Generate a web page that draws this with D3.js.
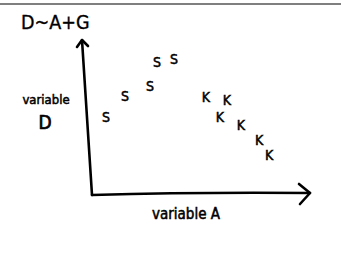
<!DOCTYPE html>
<html><head><meta charset="utf-8">
<script src="https://cdn.jsdelivr.net/npm/d3@7"></script>
<style>html,body{margin:0;padding:0;background:#fff;}svg{display:block;}</style>
</head><body>
<script>
const title = "D~A+G";
const xLabel = "variable A";
const yLabel1 = "variable";
const yLabel2 = "D";
const groupS = "S";
const groupK = "K";
const sX = [6.7, 15.9, 27.9, 31.3, 39.4];
const sY = [50.3, 63.9, 70.3, 85.8, 87.7];
const kX = [54.8, 64.9, 61.5, 71.6, 80.3, 85.1];
const kY = [63.2, 61.3, 50.3, 45.2, 35.5, 25.8];

const W = 341, H = 262;
const svg = d3.select("body").append("svg").attr("width", W).attr("height", H);
const x = d3.scaleLinear().domain([0, 100]).range([92, 300]);
const y = d3.scaleLinear().domain([0, 100]).range([195, 40]);

svg.append("line").attr("x1", 0).attr("x2", W).attr("y1", 4).attr("y2", 4)
  .attr("stroke", "#555").attr("stroke-width", 1.5);

svg.append("text").attr("x", 21).attr("y", 29).text(title)
  .attr("font-family", "DejaVu Sans Condensed, DejaVu Sans").attr("font-size", 19.5)
  .attr("fill", "#000").attr("stroke", "#000").attr("stroke-width", 0.35);

const ax = svg.append("g").attr("fill", "none").attr("stroke", "#000")
  .attr("stroke-width", 2.6).attr("stroke-linecap", "round").attr("stroke-linejoin", "round");
const x0 = x(0), y0 = y(0);
ax.append("path").attr("d", `M${x0},${y0} L${x0 - 10},${y(100)}`);
ax.append("path").attr("d", `M${x0 - 15},${y(100) + 7} L${x0 - 10},${y(100)} L${x0 - 4},${y(100) + 6}`);
ax.append("path").attr("d", `M${x0},${y0} Q${x(50)},${y0 - 3} ${x(100) + 10},${y0 - 2}`);
ax.append("path").attr("d", `M${x(100) - 1},${y0 - 11} L${x(100) + 10},${y0 - 2} L${x(100)},${y0 + 9}`);

const hand = "Liberation Sans Narrow, DejaVu Sans Condensed, sans-serif";
const lab = (tx, ty, sz, t, sw) => svg.append("text").attr("x", tx).attr("y", ty)
  .attr("text-anchor", "middle").attr("font-family", hand).attr("font-size", sz)
  .attr("fill", "#000").attr("stroke", "#000").attr("stroke-width", sw).text(t);
lab(46, 104, 13, yLabel1, 0.5);
lab(45, 129, 19, yLabel2, 0.7);
lab(186, 219, 15, xLabel, 0.5);

const pts = sX.map((v, i) => ({x: v, y: sY[i], t: groupS}))
  .concat(kX.map((v, i) => ({x: v, y: kY[i], t: groupK})));
svg.append("g").selectAll("text").data(pts).join("text")
  .attr("x", d => x(d.x)).attr("y", d => y(d.y)).attr("dy", "0.36em")
  .attr("text-anchor", "middle").attr("font-family", hand).attr("font-size", 14)
  .attr("fill", "#000").attr("stroke", "#000").attr("stroke-width", 0.5).text(d => d.t);
</script>
</body></html>
